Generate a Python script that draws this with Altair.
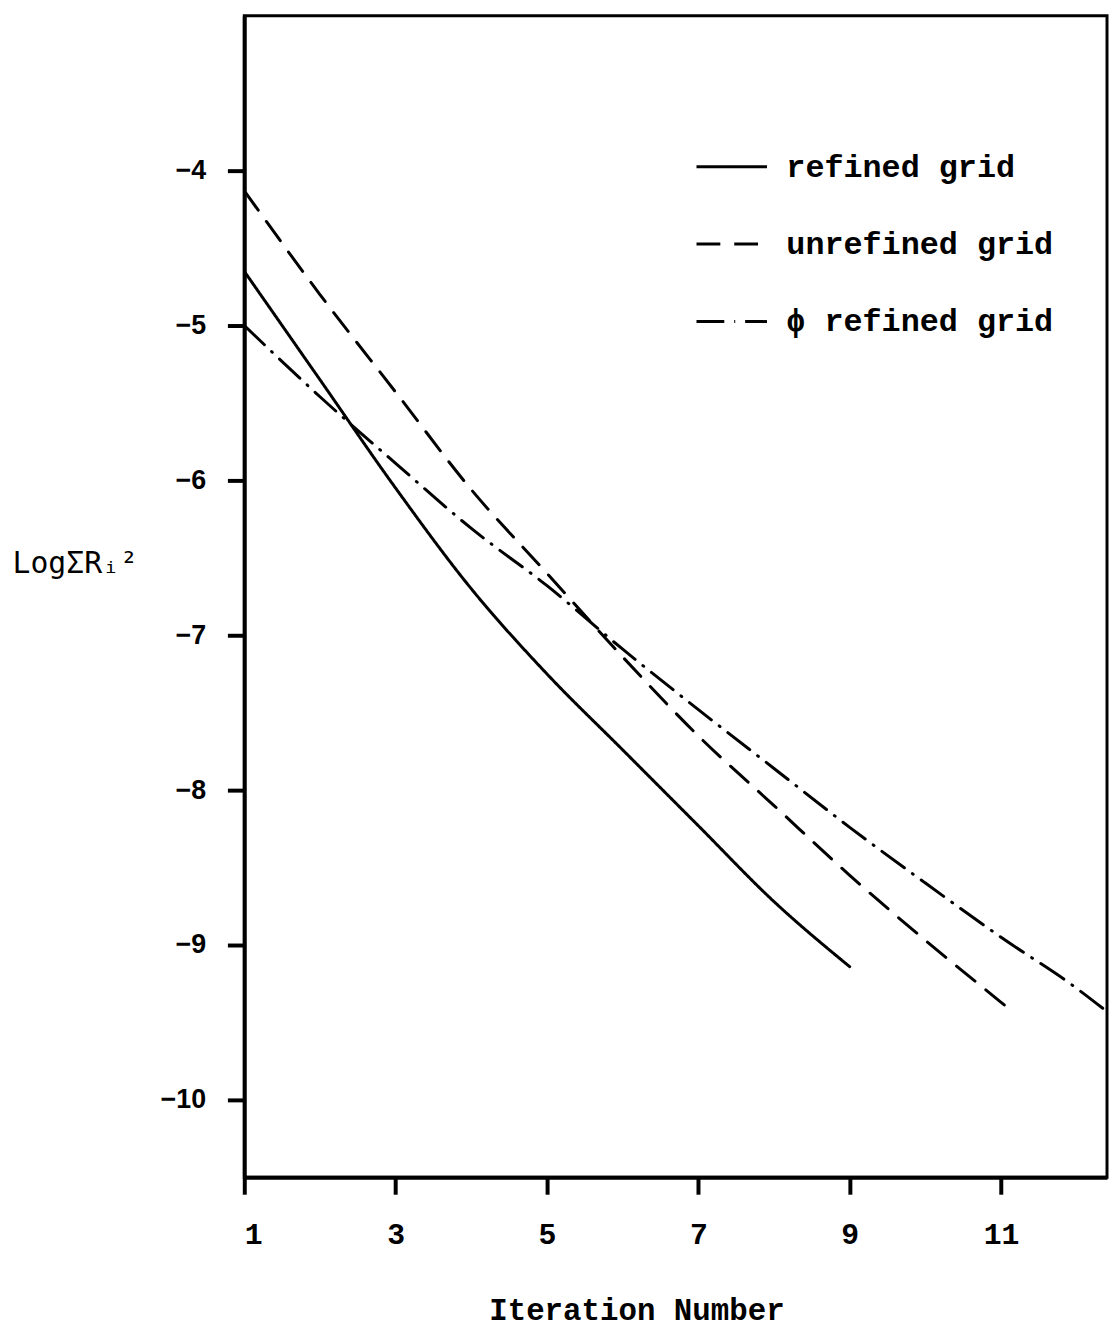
import altair as alt
import pandas as pd

# ---- data ----
series_names = ["refined grid", "unrefined grid", "\u03d5 refined grid"]

iter_refined = [1, 2, 3, 4, 5, 6, 7, 8, 9]
log_refined = [-4.65, -5.35, -6.05, -6.70, -7.25, -7.74, -8.23, -8.72, -9.14]

iter_unrefined = [1, 2, 3, 4, 5, 6, 7, 8, 9, 10, 11, 11.15]
log_unrefined = [-4.13, -4.80, -5.43, -6.06, -6.60, -7.14, -7.65, -8.10, -8.55, -8.97, -9.37, -9.43]

iter_phi = [1, 2, 3, 4, 5, 6, 7, 8, 9, 10, 11, 12, 12.4]
log_phi = [-5.00, -5.46, -5.89, -6.31, -6.68, -7.09, -7.48, -7.86, -8.24, -8.60, -8.95, -9.28, -9.43]

x_ticks = [1, 3, 5, 7, 9, 11]
y_ticks = [-10, -9, -8, -7, -6, -5, -4]

rows = []
for name, xs, ys in zip(series_names,
                        [iter_refined, iter_unrefined, iter_phi],
                        [log_refined, log_unrefined, log_phi]):
    for i, (xv, yv) in enumerate(zip(xs, ys)):
        rows.append({"series": name, "iter": xv, "logr": yv, "order": i})
df = pd.DataFrame(rows)

mono = "Liberation Mono"

chart = alt.Chart(df).mark_line(
    color="black", strokeWidth=3, clip=True, interpolate="monotone", strokeCap="round"
).encode(
    x=alt.X("iter:Q",
            scale=alt.Scale(domain=[1, 12.4], nice=False, zero=False),
            axis=alt.Axis(values=x_ticks, title="Iteration Number",
                          labelFont=mono, labelFontSize=30, labelFontWeight="bold",
                          labelBaseline="middle", labelPadding=41,
                          titleFont=mono, titleFontSize=31, titleFontWeight="bold",
                          titleX=395, titleY=134, titleBaseline="middle",
                          titleAlign="center")),
    y=alt.Y("logr:Q",
            scale=alt.Scale(domain=[-10.5, -3], nice=False, zero=False),
            axis=alt.Axis(values=y_ticks, title="LogΣRᵢ²", format="d",
                          labelFont="Liberation Sans", labelFontSize=27,
                          labelFontWeight="bold", labelPadding=22,
                          titleFont="DejaVu Sans Mono", titleFontSize=30,
                          titleFontWeight="normal",
                          titleAngle=0, titleAlign="left", titleBaseline="middle",
                          titleX=-234, titleY=552)),
    strokeDash=alt.StrokeDash(
        "series:N",
        scale=alt.Scale(domain=series_names,
                        range=[[1, 0], [24, 14], [28, 10, 1, 10]]),
        legend=alt.Legend(orient="none", legendX=454, legendY=115, title=None,
                          symbolType="stroke", symbolSize=5041, symbolStrokeWidth=3,
                          symbolStrokeColor="black", labelFont=mono, labelFontSize=32,
                          labelFontWeight="bold", labelColor="black", labelOffset=18,
                          rowPadding=25, padding=0, labelLimit=0)),
    order="order:Q",
).properties(
    width=869, height=1170,
    background="white",
    autosize=alt.AutoSizeParams(type="none"),
    padding={"left": 238, "top": 3, "right": 2, "bottom": 156},
).configure_view(
    stroke="black", strokeWidth=3
).configure_axis(
    domainColor="black", domainWidth=4, tickColor="black", tickWidth=4, tickSize=17,
    grid=False, labelColor="black", titleColor="black"
)

chart.save("out.html", embed_options={"renderer": "svg", "actions": False})
